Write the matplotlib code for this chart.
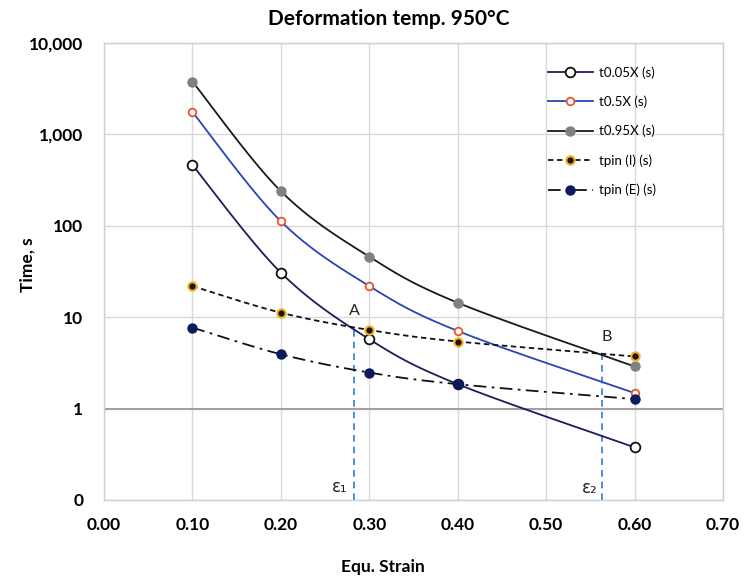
import numpy as np
import matplotlib
matplotlib.use("Agg")
import matplotlib.pyplot as plt
from matplotlib.lines import Line2D
from matplotlib.ticker import FixedLocator, FuncFormatter

plt.rcParams['font.family'] = ['Lato', 'DejaVu Sans']

# ---- data ----
strain = [0.10, 0.20, 0.30, 0.40, 0.60]
t005 = [463, 30.7, 5.74, 1.85, 0.377]
t05 = [1760, 112, 21.9, 7.07, 1.48]
t095 = [3790, 239, 45.9, 14.4, 2.89]
tpin_i = [21.9, 11.2, 7.25, 5.42, 3.72]
tpin_e = [7.7, 3.93, 2.48, 1.85, 1.27]
labels = ["t0.05X (s)", "t0.5X (s)", "t0.95X (s)", "tpin (I) (s)", "tpin (E) (s)"]
eps1, epsA = 0.283, 7.5
eps2, epsB = 0.563, 3.72
xticks = [0.0, 0.1, 0.2, 0.3, 0.4, 0.5, 0.6, 0.7]
yticks = [0.1, 1, 10, 100, 1000, 10000]

W, H = 753, 583
fig = plt.figure(figsize=(W / 100, H / 100), dpi=100)
ax = fig.add_axes([104 / W, 1 - 500 / H, (723 - 104) / W, (500 - 43) / H])

XS, YS = 884.0, 91.4  # px per unit strain, px per decade


def smooth(xs, ys, n=40):
    P = np.column_stack([np.asarray(xs) * XS, np.log10(ys) * YS])
    m = len(P)
    out = []
    for i in range(m - 1):
        p0 = P[max(i - 1, 0)]
        p1 = P[i]
        p2 = P[i + 1]
        p3 = P[min(i + 2, m - 1)]
        c1 = p1 + (p2 - p0) / 6.0
        c2 = p2 - (p3 - p1) / 6.0
        t = np.linspace(0, 1, n)[:, None]
        seg = ((1 - t) ** 3) * p1 + 3 * ((1 - t) ** 2) * t * c1 + 3 * (1 - t) * t ** 2 * c2 + t ** 3 * p2
        out.append(seg if i == 0 else seg[1:])
    out = np.vstack(out)
    return out[:, 0] / XS, 10 ** (out[:, 1] / YS)


styles = [
    dict(data=t005, color='#1c1c5e', ls='-', marker='o', ms=7, mfc='white', mec='#111111', mew=1.3),
    dict(data=t05, color='#2845b5', ls='-', marker='o', ms=5.5, mfc='white', mec='#e8552f', mew=1.3),
    dict(data=t095, color='#1a1a1a', ls='-', marker='o', ms=6.5, mfc='#808080', mec='#808080', mew=1.0),
    dict(data=tpin_i, color='#111111', ls=(0, (3, 2)), marker='o', ms=6, mfc='#1a1000', mec='#f2b41a', mew=1.5),
    dict(data=tpin_e, color='#111111', ls=(0, (7, 3, 1.5, 3)), marker='o', ms=6.5, mfc='#0b1a5e', mec='#0b1a5e', mew=1.0),
]

handles = []
for k, s in enumerate(styles):
    sx, sy = smooth(strain, s['data'])
    ax.plot(sx, sy, color=s['color'], ls=s['ls'], lw=1.3, zorder=3 + k * 0.1)
    ax.plot(strain, s['data'], ls='none', marker=s['marker'], ms=s['ms'],
            mfc=s['mfc'], mec=s['mec'], mew=s['mew'], zorder=5 + k * 0.1)
    handles.append(Line2D([0], [0], color=s['color'], ls=s['ls'], lw=1.3,
                          marker=s['marker'], ms=s['ms'], mfc=s['mfc'], mec=s['mec'], mew=s['mew']))

ax.set_yscale('log')
ax.set_xlim(0, 0.7)
ax.set_ylim(0.1, 10000)
ax.xaxis.set_major_locator(FixedLocator(xticks))
ax.xaxis.set_major_formatter(FuncFormatter(lambda v, p: f"{v:.2f}"))
ax.yaxis.set_major_locator(FixedLocator(yticks))
ax.yaxis.set_minor_locator(FixedLocator([]))
ax.yaxis.set_major_formatter(FuncFormatter(lambda v, p: "0" if v < 1 else f"{v:,.0f}"))
ax.tick_params(length=0, labelsize=12.5)
ax.tick_params(axis='y', pad=15)
ax.tick_params(axis='x', pad=12)
for lab in ax.get_xticklabels() + ax.get_yticklabels():
    lab.set_fontweight('bold')
ax.grid(True, color='#d9d9d9', lw=1.0, zorder=0)
ax.set_axisbelow(True)
ax.axhline(1, color='#a0a0a0', lw=1.4, zorder=1.5)
for sp in ax.spines.values():
    sp.set_color('#d0d0d0')
    sp.set_linewidth(1.0)

# epsilon markers
ax.plot([eps1, eps1], [0.1, epsA], color='#2e7bd6', ls=(0, (4, 3)), lw=1.2, zorder=2.5)
ax.plot([eps2, eps2], [0.1, epsB], color='#2e7bd6', ls=(0, (4, 3)), lw=1.2, zorder=2.5)
ax.text(eps1, 11.6, "A", ha='center', va='center', fontsize=11.5, color='#222222')
ax.text(0.569, 6.0, "B", ha='center', va='center', fontsize=11.5, color='#222222')
ax.text(0.267, 0.139, "ε₁", ha='center', va='center', fontsize=12, color='#222222',
        family=['DejaVu Sans'])
ax.text(0.549, 0.135, "ε₂", ha='center', va='center', fontsize=12, color='#222222',
        family=['DejaVu Sans'])

leg = fig.legend(handles, labels, loc='upper left', bbox_to_anchor=(548 / W, 1 - 66 / H),
                 frameon=False, fontsize=9.5, handlelength=3.4, handletextpad=0.45,
                 labelspacing=1.28, borderaxespad=0, borderpad=0)

fig.text(389 / W, 1 - 19 / H, "Deformation temp. 950°C", ha='center', va='center',
         fontsize=15, fontweight='bold')
fig.text(28 / W, 1 - 265 / H, "Time, s", ha='center', va='center', rotation=90,
         fontsize=12.5, fontweight='bold')
fig.text(383 / W, 1 - 567 / H, "Equ. Strain", ha='center', va='center',
         fontsize=12.5, fontweight='bold')

fig.savefig("out.png", dpi=100)
